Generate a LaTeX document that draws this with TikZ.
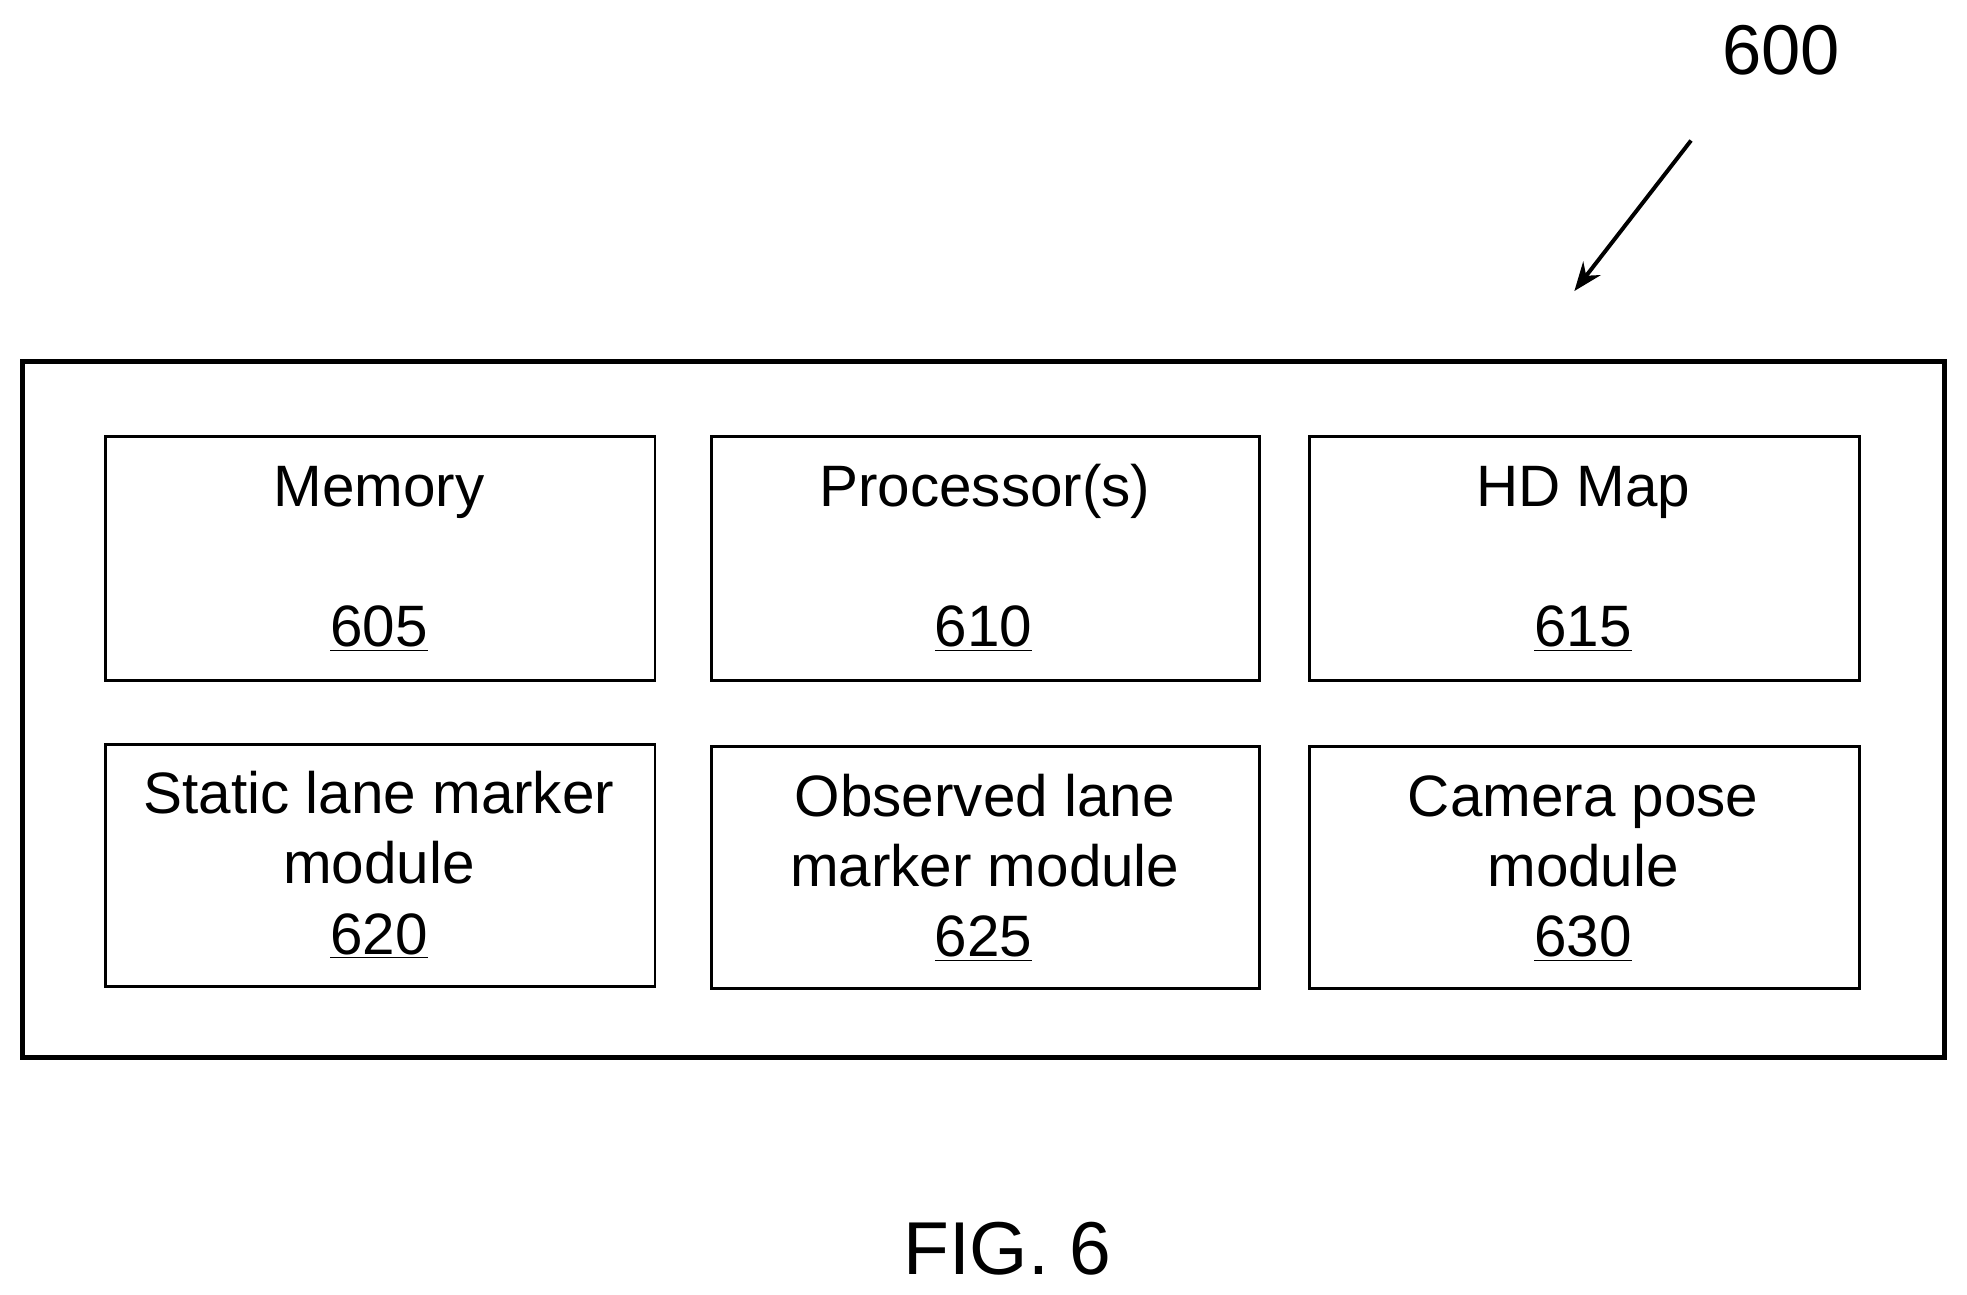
\documentclass[tikz,border=0pt]{standalone}
\usepackage{fontspec}
\usetikzlibrary{arrows.meta}
\setmainfont{Liberation Sans}
\begin{document}
\begin{tikzpicture}[x=0.02cm,y=-0.02cm,
  box/.style={draw,line width=1.3pt},
  lbl/.style={font=\fontsize{26.5}{30}\selectfont,align=center,text height=0.72em,text depth=0.2em,yshift=-0.22cm}]
\useasboundingbox (0,0) rectangle (1568,1032);
\draw[line width=2.4pt] (18,288) rectangle (1550,843);
\node[box,minimum width=438*0.02cm,minimum height=194*0.02cm,anchor=north west] (b605) at (83,347) {};
\node[box,minimum width=437*0.02cm,minimum height=194*0.02cm,anchor=north west] (b610) at (566,347) {};
\node[box,minimum width=438*0.02cm,minimum height=194*0.02cm,anchor=north west] (b615) at (1043,347) {};
\node[box,minimum width=438*0.02cm,minimum height=193*0.02cm,anchor=north west] (b620) at (83,592) {};
\node[box,minimum width=437*0.02cm,minimum height=193*0.02cm,anchor=north west] (b625) at (566,594) {};
\node[box,minimum width=438*0.02cm,minimum height=193*0.02cm,anchor=north west] (b630) at (1043,594) {};
\node[lbl] (t605) at (302,388) {Memory};
\node[lbl] (n605) at (302,500) {\underline{605}};
\node[lbl] (t610) at (785,388) {Processor(s)};
\node[lbl] (n610) at (784,500) {\underline{610}};
\node[lbl] (t615) at (1262,388) {HD Map};
\node[lbl] (n615) at (1262,500) {\underline{615}};
\node[lbl] (t620a) at (302,633) {Static lane marker};
\node[lbl] (t620b) at (302,689) {module};
\node[lbl] (n620) at (302,745) {\underline{620}};
\node[lbl] (t625a) at (785,635) {Observed lane};
\node[lbl] (t625b) at (785,691) {marker module};
\node[lbl] (n625) at (784,747) {\underline{625}};
\node[lbl] (t630a) at (1262,635) {Camera pose};
\node[lbl] (t630b) at (1262,691) {module};
\node[lbl] (n630) at (1262,747) {\underline{630}};
\node[font=\fontsize{32}{36}\selectfont] (l600) at (1420,40) {600};
\coordinate (a1) at (1348,112);
\coordinate (a2) at (1255,232);
\draw[line width=1.8pt,-{Stealth[length=13pt,width=10pt]}] (a1) -- (a2);
\node[font=\fontsize{34}{38}\selectfont] (fig) at (803,995) {FIG. 6};
\end{tikzpicture}
\end{document}
